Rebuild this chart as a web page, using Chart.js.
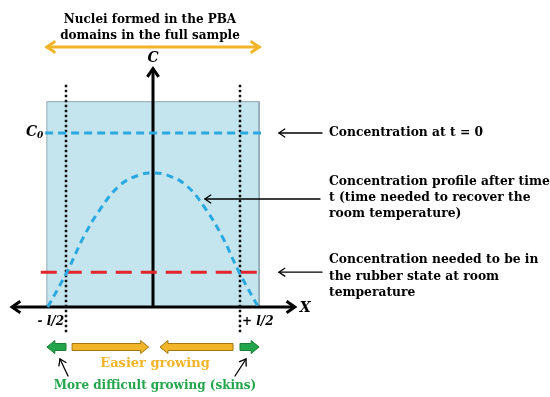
<!DOCTYPE html>
<html>
<head>
<meta charset="utf-8">
<script src="https://cdn.jsdelivr.net/npm/chart.js@4"></script>
<style>
  html, body { margin: 0; padding: 0; background: #fff; }
  #wrap { width: 550px; height: 397px; position: relative; }
</style>
</head>
<body>
<div id="wrap"><canvas id="diagram"></canvas></div>
<script>
// x in units of l/2, C in units of C0
const profileX = [-1.21, -0.99, -0.80, -0.61, -0.38, -0.15, 0, 0.15, 0.38, 0.61, 0.80, 0.99, 1.21];
const profileC = [0, 0.20, 0.40, 0.56, 0.70, 0.76, 0.77, 0.76, 0.70, 0.56, 0.40, 0.20, 0];
const c0Level = 1;
const rubberLevel = 0.2;
const halfL = 1;
const sampleEdge = 1.22;
const sampleTop = 1.18;
const boundaryTicks = ["- l/2", "+ l/2"];

const BLUE = "#2ba8df";
const RED = "#e0262b";
const ORANGE = "#f2b52a";
const GREEN = "#23a64b";
const FONT = "'DejaVu Serif', serif";

function pts(xs, ys) {
  return xs.map((x, i) => ({ x: x, y: ys[i] }));
}

// open arrow head at (x, y) pointing along angle a
function head(ctx, x, y, a, size) {
  ctx.beginPath();
  ctx.moveTo(x - size * Math.cos(a - 0.6), y - size * Math.sin(a - 0.6));
  ctx.lineTo(x, y);
  ctx.lineTo(x - size * Math.cos(a + 0.6), y - size * Math.sin(a + 0.6));
  ctx.stroke();
}

function arrow(ctx, x1, y1, x2, y2, width, color, size) {
  ctx.save();
  ctx.strokeStyle = color;
  ctx.lineWidth = width;
  ctx.lineCap = "round";
  ctx.beginPath();
  ctx.moveTo(x1, y1);
  ctx.lineTo(x2, y2);
  ctx.stroke();
  head(ctx, x2, y2, Math.atan2(y2 - y1, x2 - x1), size);
  ctx.restore();
}

// fat block arrow from tail x1 to tip x2
function blockArrow(ctx, x1, x2, y, fill, stroke) {
  const dir = x2 > x1 ? 1 : -1;
  const hl = 8, sh = 3.5, hh = 6.5;
  const xb = x2 - dir * hl;
  ctx.save();
  ctx.beginPath();
  ctx.moveTo(x1, y - sh);
  ctx.lineTo(xb, y - sh);
  ctx.lineTo(xb, y - hh);
  ctx.lineTo(x2, y);
  ctx.lineTo(xb, y + hh);
  ctx.lineTo(xb, y + sh);
  ctx.lineTo(x1, y + sh);
  ctx.closePath();
  ctx.fillStyle = fill;
  ctx.fill();
  ctx.strokeStyle = stroke;
  ctx.lineWidth = 1;
  ctx.stroke();
  ctx.restore();
}

const annotations = {
  id: "annotations",
  afterDatasetsDraw(chart) {
    const { ctx, scales: { x, y } } = chart;
    const px = (v) => x.getPixelForValue(v);
    const py = (v) => y.getPixelForValue(v);

    ctx.save();
    // axis arrow heads
    ctx.strokeStyle = "#000";
    ctx.lineWidth = 3;
    head(ctx, px(1.63), py(0), 0, 10);
    head(ctx, px(-1.62), py(0), Math.PI, 10);
    head(ctx, px(0), py(1.37), -Math.PI / 2, 10);

    // axis labels
    ctx.fillStyle = "#000";
    ctx.textBaseline = "middle";
    ctx.textAlign = "center";
    ctx.font = "italic bold 14px " + FONT;
    ctx.fillText("C", px(0), 58);
    ctx.textAlign = "left";
    ctx.fillText("X", px(1.63) + 5, py(0) + 1);
    ctx.textAlign = "right";
    ctx.fillText("C", px(-1.24) - 8, py(c0Level) - 1);
    ctx.font = "italic bold 9px " + FONT;
    ctx.textAlign = "left";
    ctx.fillText("0", px(-1.24) - 8, py(c0Level) + 3);

    ctx.font = "italic bold 12px " + FONT;
    ctx.textAlign = "right";
    ctx.fillText(boundaryTicks[0], px(-halfL) - 2, 322);
    ctx.textAlign = "left";
    ctx.fillText(boundaryTicks[1], px(halfL) + 2, 322);

    // title with double arrow
    ctx.font = "bold 12px " + FONT;
    ctx.textAlign = "center";
    ctx.fillText("Nuclei formed in the PBA", 150, 20);
    ctx.fillText("domains in the full sample", 150, 36);
    arrow(ctx, 150, 47, px(-sampleEdge), 47, 3, ORANGE, 9);
    arrow(ctx, 150, 47, px(sampleEdge), 47, 3, ORANGE, 9);

    // right-side notes
    arrow(ctx, 322, py(c0Level), 279, py(c0Level), 1.3, "#000", 7);
    arrow(ctx, 320, 199, 205, 199, 1.3, "#000", 7);
    arrow(ctx, 322, py(rubberLevel), 279, py(rubberLevel), 1.3, "#000", 7);
    ctx.fillStyle = "#000";
    ctx.textAlign = "left";
    ctx.font = "bold 12.3px " + FONT;
    ctx.fillText("Concentration at t = 0", 329, py(c0Level));
    ctx.fillText("Concentration profile after time", 329, 182);
    ctx.fillText("t (time needed to recover the", 329, 198);
    ctx.fillText("room temperature)", 329, 214);
    ctx.fillText("Concentration needed to be in", 329, 260);
    ctx.fillText("the rubber state at room", 329, 277);
    ctx.fillText("temperature", 329, 293);

    // growth arrows
    const ya = py(-0.23);
    blockArrow(ctx, px(-halfL), px(-sampleEdge), ya, GREEN, "#1b7f39");
    blockArrow(ctx, px(-0.93), px(-0.05), ya, ORANGE, "#a07810");
    blockArrow(ctx, px(0.92), px(0.08), ya, ORANGE, "#a07810");
    blockArrow(ctx, px(halfL), px(sampleEdge), ya, GREEN, "#1b7f39");

    ctx.textAlign = "center";
    ctx.font = "bold 13px " + FONT;
    ctx.fillStyle = ORANGE;
    ctx.fillText("Easier growing", 155, 364);
    ctx.font = "bold 12px " + FONT;
    ctx.fillStyle = GREEN;
    ctx.fillText("More difficult growing (skins)", 155, 386);

    arrow(ctx, 68, 376, 60, 359, 1.3, "#000", 7);
    arrow(ctx, 235, 376, 246, 359, 1.3, "#000", 7);
    ctx.restore();
  },
};

const config = {
  type: "scatter",
  data: {
    datasets: [
      {
        // concentration profile after time t
        data: pts(profileX, profileC),
        showLine: true,
        borderColor: BLUE,
        borderWidth: 3,
        borderDash: [7, 5],
        tension: 0.4,
        pointRadius: 0,
        order: 1,
      },
      {
        // C0
        data: pts([-1.24, 1.26], [c0Level, c0Level]),
        showLine: true,
        borderColor: BLUE,
        borderWidth: 3,
        borderDash: [8, 5],
        pointRadius: 0,
        order: 2,
      },
      {
        // rubber state threshold
        data: pts([-1.29, 1.29], [rubberLevel, rubberLevel]),
        showLine: true,
        borderColor: RED,
        borderWidth: 3,
        borderDash: [16, 9],
        pointRadius: 0,
        order: 1,
      },
      {
        data: pts([-halfL, -halfL], [-0.145, 1.29]),
        showLine: true,
        borderColor: "#111",
        borderWidth: 2.5,
        borderDash: [2.5, 2.5],
        pointRadius: 0,
        order: 3,
      },
      {
        data: pts([halfL, halfL], [-0.145, 1.29]),
        showLine: true,
        borderColor: "#111",
        borderWidth: 2.5,
        borderDash: [2.5, 2.5],
        pointRadius: 0,
        order: 3,
      },
      {
        // X axis
        data: pts([-1.62, 1.63], [0, 0]),
        showLine: true,
        borderColor: "#000",
        borderWidth: 3,
        pointRadius: 0,
        order: 4,
      },
      {
        // C axis
        data: pts([0, 0], [0, 1.37]),
        showLine: true,
        borderColor: "#000",
        borderWidth: 3,
        pointRadius: 0,
        order: 4,
      },
      {
        // sample
        data: pts([-sampleEdge, -sampleEdge, sampleEdge, sampleEdge], [0, sampleTop, sampleTop, 0]),
        showLine: true,
        borderColor: "#8ea7ae",
        borderWidth: 1,
        backgroundColor: "#c4e5ee",
        fill: "origin",
        pointRadius: 0,
        order: 10,
      },
    ],
  },
  options: {
    responsive: true,
    maintainAspectRatio: false,
    animation: false,
    layout: { padding: 0 },
    scales: {
      x: { type: "linear", min: -1.7586, max: 4.5632, display: false },
      y: { type: "linear", min: -0.5172, max: 1.7644, display: false },
    },
    plugins: {
      legend: { display: false },
      tooltip: { enabled: false },
    },
  },
  plugins: [annotations],
};

new Chart(document.getElementById("diagram"), config);
</script>
</body>
</html>
